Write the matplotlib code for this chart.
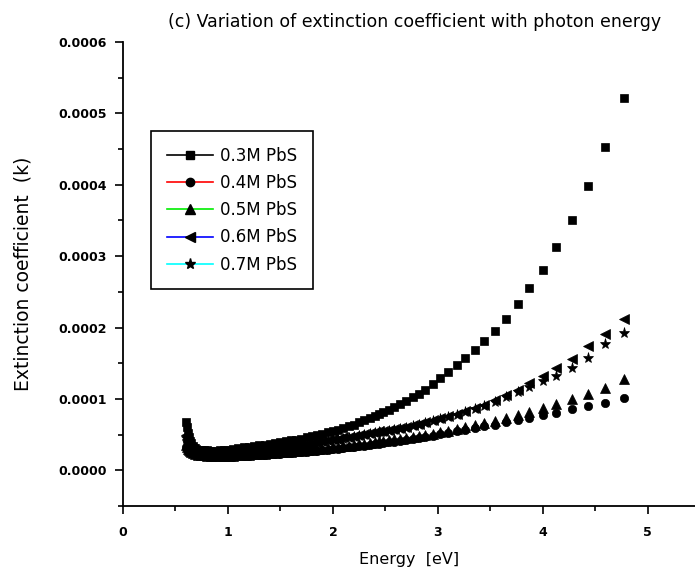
import matplotlib.pyplot as plt
import numpy as np
from matplotlib.lines import Line2D
from matplotlib.ticker import MultipleLocator, FormatStrFormatter

plt.rcParams['font.family'] = ['DejaVu Sans']

# ---------------- Data ----------------
# photon energy (eV), shared by all samples
energy = np.array([
    0.60, 0.61, 0.62, 0.63, 0.64, 0.65, 0.67, 0.69, 0.71, 0.74, 0.77, 0.80,
    0.84, 0.88, 0.92, 0.96, 1.00, 1.05, 1.10, 1.15, 1.20, 1.25, 1.30, 1.35,
    1.40, 1.45, 1.50, 1.55, 1.60, 1.65, 1.70, 1.75, 1.80, 1.85, 1.90, 1.95,
    2.00, 2.05, 2.10, 2.15, 2.20, 2.25, 2.30, 2.35, 2.40, 2.44, 2.48, 2.53,
    2.58, 2.64, 2.70, 2.76, 2.82, 2.88, 2.95, 3.02, 3.10, 3.18, 3.26, 3.35,
    3.44, 3.54, 3.65, 3.76, 3.87, 4.00, 4.13, 4.28, 4.43, 4.59, 4.77])

# extinction coefficient k (x 1e-6)
k_03 = np.array([
    68, 60, 52, 46, 41, 38, 34, 31, 29, 28.5, 28, 28,
    27.5, 27.5, 28, 28.5, 29, 30, 31, 32, 33, 34, 35, 36,
    37, 38.5, 39.5, 40.5, 42, 43, 44.5, 46, 47.5, 49, 51, 53,
    55, 57, 59, 61.5, 64, 67, 70, 73, 76, 78.5, 81, 84.5,
    88, 92.5, 97, 102, 107.5, 113, 120.5, 129, 138, 147, 157, 168,
    181, 195, 212, 233, 256, 281, 313, 351, 398, 453, 522]) * 1e-6
k_04 = np.array([
    33, 31, 29, 27, 25.5, 24.5, 23, 22, 21, 20.5, 20, 19.5,
    19, 18.5, 18.5, 18.5, 18.5, 19, 19.5, 20, 20.5, 21, 21.5, 22,
    22.5, 23, 23.5, 24, 24.5, 25, 25.5, 26, 27, 27.5, 28, 29,
    29.5, 30.5, 31, 32, 33, 33.5, 34.5, 35.5, 36.5, 37, 38, 39,
    40, 41, 42.5, 44, 45.5, 47, 48.5, 50.5, 52.5, 54.5, 56.5, 59,
    61.5, 64, 67, 70, 73, 77, 80, 85.5, 90, 94, 101]) * 1e-6
k_05 = np.array([
    35, 32, 30, 28, 26.5, 25.5, 24, 23, 22, 21.5, 21, 20.5,
    20, 20, 20, 20, 20, 20.5, 21, 21.5, 22, 22.5, 23, 23.5,
    24, 24.5, 25, 25.5, 26, 27, 27.5, 28, 29, 29.5, 30.5, 31,
    32, 33, 33.5, 34.5, 35.5, 36.5, 37.5, 38.5, 39.5, 40.5, 41.5, 42.5,
    43.5, 44.5, 45.5, 47, 48, 49.5, 51, 53, 55, 57.5, 60, 63,
    66, 69.5, 73, 77, 81.5, 87, 92.5, 100, 107, 115, 128]) * 1e-6
k_06 = np.array([
    50, 44, 39, 36, 33, 31, 29.5, 28, 27, 26, 25, 24.5,
    24, 23.5, 23.5, 23.5, 23.5, 24, 24.5, 25, 25.5, 26.5, 27, 28,
    29, 30, 31, 32, 33.5, 34.5, 36, 37, 38.5, 39.5, 41, 42,
    43.5, 44.5, 46, 47, 48.5, 49.5, 51, 52, 53.5, 54.5, 55.5, 57,
    58, 59.5, 61, 63, 65, 67.5, 70, 73, 76, 79.5, 83, 87,
    92, 98, 105, 113, 122, 132, 143, 156, 174, 191, 212]) * 1e-6
k_07 = np.array([
    45, 40, 36, 33, 31, 29.5, 28, 27, 26, 25, 24, 23.5,
    23, 22.5, 22.5, 22.5, 22.5, 23, 23.5, 24, 24.5, 25.5, 26, 27,
    28, 29, 30, 31, 32, 33, 34.5, 35.5, 37, 38, 39.5, 40.5,
    42, 43, 44.5, 45.5, 47, 48, 49.5, 50.5, 52, 53, 54, 55.5,
    56.5, 58, 59.5, 61.5, 63.5, 66, 68.5, 71.5, 74.5, 78, 81.5, 85.5,
    90, 96, 102, 110, 117, 125, 132, 143, 158, 177, 193]) * 1e-6

labels = ["0.3M PbS", "0.4M PbS", "0.5M PbS", "0.6M PbS", "0.7M PbS"]
series = [k_03, k_04, k_05, k_06, k_07]
markers = ['s', 'o', '^', '<', '*']
line_colors = ['black', 'red', '#00ee00', 'blue', 'cyan']
msizes = [6, 6, 6.5, 6.5, 8]

# ---------------- Plot ----------------
fig = plt.figure(figsize=(6.95, 5.75), dpi=100)
ax = fig.add_axes([0.177, 0.12, 0.823, 0.807])

for k, m, ms in zip(series, markers, msizes):
    ax.plot(energy, k, linestyle='none', marker=m, markersize=ms,
            color='black', markeredgewidth=0.5)

ax.set_xlim(0, 5.45)
ax.set_ylim(-0.00005, 0.0006)
ax.xaxis.set_major_locator(MultipleLocator(1))
ax.xaxis.set_minor_locator(MultipleLocator(0.5))
ax.yaxis.set_major_locator(MultipleLocator(0.0001))
ax.yaxis.set_minor_locator(MultipleLocator(0.00005))
ax.xaxis.set_major_formatter(FormatStrFormatter('%d'))
ax.yaxis.set_major_formatter(FormatStrFormatter('%.4f'))

for s in ['top', 'right']:
    ax.spines[s].set_visible(False)
for s in ['left', 'bottom']:
    ax.spines[s].set_linewidth(1.3)
ax.tick_params(which='major', direction='out', length=5.5, width=1.2,
               labelsize=9)
ax.tick_params(axis='x', which='major', pad=9)
ax.tick_params(axis='y', which='major', pad=6)
ax.tick_params(which='minor', direction='out', length=3.5, width=1.2)
for lab in ax.get_xticklabels() + ax.get_yticklabels():
    lab.set_fontweight('bold')

ax.set_xlabel("Energy  [eV]", fontsize=11.5, labelpad=9)
ax.set_ylabel("Extinction coefficient  (k)", fontsize=13.5, labelpad=19)
fig.text(0.596, 0.962, "(c) Variation of extinction coefficient with photon energy",
         ha='center', va='center', fontsize=12.5)

handles = [Line2D([], [], color=c, marker=m, markersize=ms, lw=1.2,
                  markerfacecolor='black', markeredgecolor='black')
           for c, m, ms in zip(line_colors, markers, msizes)]
leg = ax.legend(handles, labels, loc='upper left',
                bbox_to_anchor=(0.217, 0.772), bbox_transform=fig.transFigure,
                fontsize=12, handlelength=2.8, labelspacing=0.55,
                fancybox=False, framealpha=1, borderaxespad=0,
                borderpad=0.95, handletextpad=0.4)
leg.get_frame().set_edgecolor('black')
leg.get_frame().set_linewidth(1.2)

plt.savefig('out.png', dpi=100)
